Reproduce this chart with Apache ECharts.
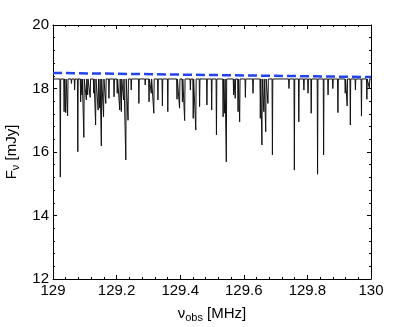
<!DOCTYPE html>
<html lang="en">
<head>
    <meta charset="UTF-8">
    <title>spectrum</title>
    <style>
        * { padding: 0; margin: 0; }
        #myChart { width: 409px; height: 327px; }
    </style>
</head>
<body>
    <div id="myChart"></div>
    <script src="https://cdn.jsdelivr.net/npm/echarts@6/dist/echarts.min.js"></script>
    <script>
        // continuum level and absorption dips (MHz, mJy)
        const baseFlux = 18.3;
        const dipFreq = [129.023, 129.035, 129.040, 129.046, 129.058, 129.068, 129.078, 129.087, 129.091, 129.097,
            129.105, 129.109, 129.117, 129.128, 129.134, 129.142, 129.147, 129.152, 129.159, 129.166,
            129.176, 129.192, 129.202, 129.210, 129.215, 129.222, 129.229, 129.236, 129.246, 129.270,
            129.290, 129.302, 129.309, 129.317, 129.330, 129.344, 129.361, 129.390, 129.398, 129.407,
            129.414, 129.432, 129.441, 129.449, 129.461, 129.484, 129.499, 129.514, 129.535, 129.540,
            129.545, 129.568, 129.573, 129.582, 129.587, 129.605, 129.629, 129.652, 129.657, 129.663,
            129.669, 129.676, 129.690, 129.742, 129.759, 129.773, 129.789, 129.802, 129.812, 129.832,
            129.851, 129.865, 129.880, 129.896, 129.919, 129.925, 129.935, 129.951, 129.970, 129.987, 129.995];
        const dipFlux = [15.21, 17.27, 17.24, 17.14, 18.16, 17.95, 16.01, 17.58, 17.80, 16.46,
            17.64, 17.80, 17.72, 17.85, 16.85, 17.32, 17.38, 16.19, 17.11, 17.53,
            17.69, 17.74, 17.85, 17.32, 17.27, 17.64, 15.75, 17.00, 17.95, 17.53,
            18.11, 17.58, 17.85, 17.22, 17.64, 17.45, 17.27, 17.66, 17.38, 17.58,
            16.99, 17.95, 17.06, 16.69, 17.43, 17.48, 17.32, 16.54, 17.11, 17.22,
            15.69, 17.80, 17.69, 17.27, 16.95, 17.72, 17.85, 17.06, 16.22, 17.27,
            16.64, 17.53, 15.91, 18.00, 15.43, 16.95, 17.95, 17.85, 17.22, 15.30,
            15.91, 17.80, 18.00, 17.24, 17.85, 17.45, 16.85, 17.95, 17.13, 17.66, 18.00];
        // dashed model continuum
        const modelFreq = [129, 130];
        const modelFlux = [18.49, 18.36];
        const xTicks = [129, 129.2, 129.4, 129.6, 129.8, 130];
        const yTicks = [12, 14, 16, 18, 20];

        const halfWidth = 0.0012;
        let spectrum = [[129, baseFlux]];
        dipFreq.forEach(function (f, i) {
            spectrum.push([f - halfWidth, baseFlux], [f, dipFlux[i]], [f + halfWidth, baseFlux]);
        });
        spectrum.push([130, baseFlux]);
        let model = modelFreq.map(function (f, i) { return [f, modelFlux[i]]; });

        const font = 'Liberation Sans';
        const axisCommon = {
            type: 'value',
            axisLine: { show: true, onZero: false, lineStyle: { color: '#000', width: 1 } },
            axisTick: { show: true, inside: true, length: 4, lineStyle: { color: '#000' } },
            minorTick: { show: true, splitNumber: 5, length: 2, lineStyle: { color: '#000' } },
            splitLine: { show: false }
        };

        let myChart = echarts.init(document.getElementById('myChart'));
        let option = {
            animation: false,
            backgroundColor: '#fff',
            grid: { left: 53, right: 38, top: 25, bottom: 48, outerBoundsMode: 'none', containLabel: false },
            xAxis: [
                Object.assign({}, axisCommon, {
                    min: xTicks[0], max: xTicks[xTicks.length - 1], interval: 0.2,
                    position: 'bottom',
                    axisLabel: { color: '#000', fontFamily: font, fontSize: 15, margin: 4 },
                    name: '{n|ν}{s|obs}{n| [MHz]}',
                    nameLocation: 'middle',
                    nameGap: 25,
                    nameTextStyle: {
                        rich: {
                            n: { fontFamily: font, fontSize: 15, color: '#000' },
                            s: { fontFamily: font, fontSize: 11, color: '#000', verticalAlign: 'bottom', padding: [8, 0, 0, 0] }
                        }
                    }
                }),
                Object.assign({}, axisCommon, {
                    min: 129, max: 130, interval: 0.2, position: 'top',
                    axisLabel: { show: false }
                })
            ],
            yAxis: [
                Object.assign({}, axisCommon, {
                    min: yTicks[0], max: yTicks[yTicks.length - 1], interval: 2,
                    position: 'left',
                    axisLabel: { color: '#000', fontFamily: font, fontSize: 15, margin: 4 },
                    name: '{n|F}{s|ν}{n| [mJy]}',
                    nameLocation: 'middle',
                    nameGap: 32,
                    nameTextStyle: {
                        rich: {
                            n: { fontFamily: font, fontSize: 15, color: '#000' },
                            s: { fontFamily: font, fontSize: 11, color: '#000', verticalAlign: 'bottom', padding: [8, 0, 0, 0] }
                        }
                    }
                }),
                Object.assign({}, axisCommon, {
                    min: 12, max: 20, interval: 2, position: 'right',
                    axisLabel: { show: false }
                })
            ],
            series: [
                {
                    type: 'line',
                    data: spectrum,
                    showSymbol: false,
                    lineStyle: { color: '#111', width: 1 },
                    z: 2
                },
                {
                    type: 'line',
                    data: model,
                    showSymbol: false,
                    lineStyle: { color: '#2244ee', width: 2.5, type: [9, 4] },
                    z: 3
                }
            ]
        };
        myChart.setOption(option, true);
    </script>
</body>
</html>
